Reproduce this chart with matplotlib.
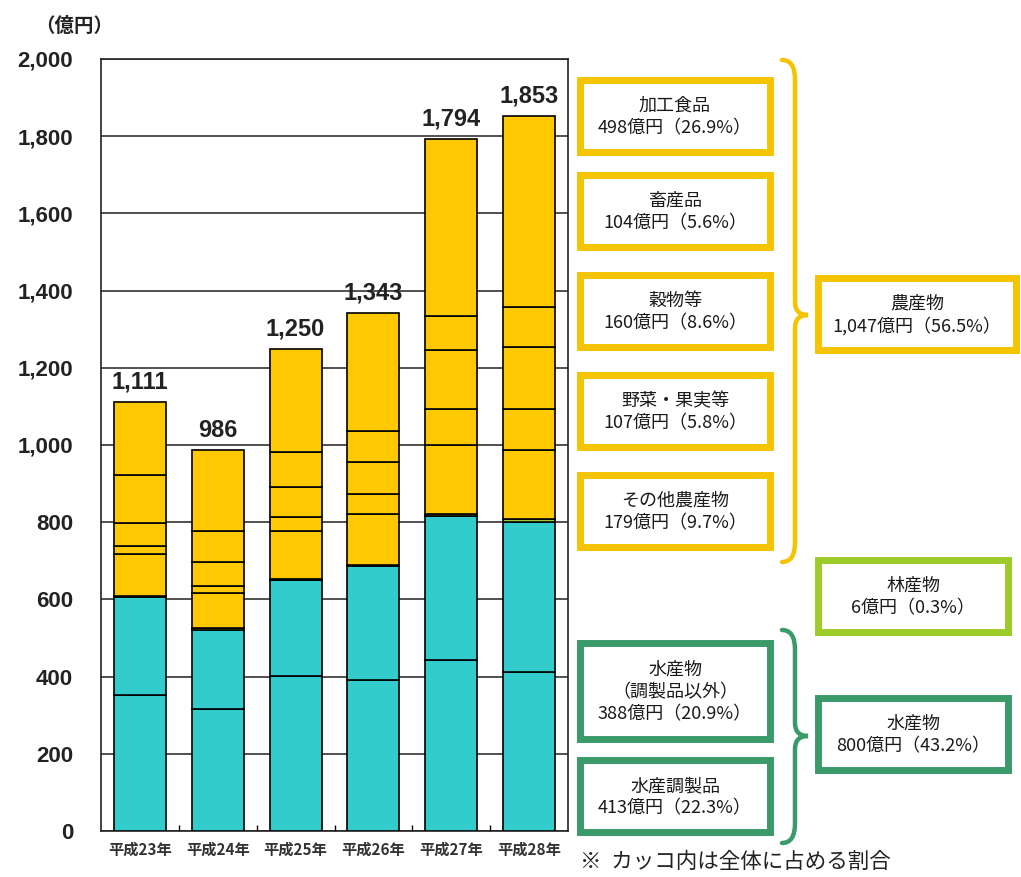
import numpy as np
import matplotlib.pyplot as plt
from matplotlib.patches import Rectangle, PathPatch
from matplotlib.path import Path

plt.rcParams['font.family'] = ['Liberation Sans', 'Noto Sans CJK JP']
JP = ['Noto Sans CJK JP', 'DejaVu Sans']

# 年度
years = ['平成23年', '平成24年', '平成25年', '平成26年', '平成27年', '平成28年']

# 品目別の輸出額（億円）、下から積み上げ順
processed_fish = [352, 316, 402, 392, 442, 413]
fish_other = [255, 206, 248, 294, 375, 388]
forest = [3, 3, 2, 2, 3, 6]
agri_other = [107, 92, 125, 132, 179, 179]
veg_fruit = [21, 19, 36, 54, 94, 107]
grain = [59, 61, 79, 81, 152, 160]
livestock = [125, 80, 91, 81, 88, 104]
processed_food = [189, 209, 267, 307, 461, 496]

TEAL = '#33CCCC'
YELLOW = '#FFC800'
BOX_Y = '#F5C400'
BOX_LG = '#9DCB2A'
BOX_DG = '#3A9A6A'

series = [
    (processed_fish, TEAL),
    (fish_other, TEAL),
    (forest, BOX_LG),
    (agri_other, YELLOW),
    (veg_fruit, YELLOW),
    (grain, YELLOW),
    (livestock, YELLOW),
    (processed_food, YELLOW),
]

# 右側の内訳ボックス（平成28年）
left_names = ['加工食品', '畜産品', '穀物等', '野菜・果実等', 'その他農産物',
              '水産物\n（調製品以外）', '水産調製品']
left_values = [498, 104, 160, 107, 179, 388, 413]
left_shares = [26.9, 5.6, 8.6, 5.8, 9.7, 20.9, 22.3]
right_names = ['農産物', '林産物', '水産物']
right_values = [1047, 6, 800]
right_shares = [56.5, 0.3, 43.2]

fig = plt.figure(figsize=(10.21, 8.77), dpi=100)
W, H = 1021, 877
ax = fig.add_axes([101 / W, 1 - 831 / H, 467 / W, 772 / H])

x = np.arange(len(years))
bottom = np.zeros(len(years))
for vals, col in series:
    ax.bar(x, vals, bottom=bottom, width=0.67, color=col,
           edgecolor='black', linewidth=1.2, zorder=3)
    bottom += np.array(vals)

for xi, tot in zip(x, bottom):
    ax.text(xi, tot + 22, f'{int(tot):,}', ha='center', va='bottom',
            fontsize=17, fontweight='bold', color='#222222')

ax.set_xlim(-0.5, 5.5)
ax.set_ylim(0, 2000)
ax.set_yticks(range(0, 2001, 200))
ax.set_yticklabels([f'{v:,}' for v in range(0, 2001, 200)],
                   fontsize=16, fontweight='bold', color='#222222')
ax.tick_params(axis='y', length=0, pad=20)
ax.set_xticks(x)
ax.set_xticklabels(years, fontsize=11, fontweight='bold', family=JP,
                   color='#333333')
ax.set_xticks(np.arange(0.5, 5.5, 1), minor=True)
ax.tick_params(axis='x', which='major', length=0, pad=8)
ax.tick_params(axis='x', which='minor', direction='in', length=4, width=1)
ax.yaxis.grid(True, color='#222222', linewidth=1.1)
ax.set_axisbelow(True)
for sp in ax.spines.values():
    sp.set_linewidth(1.2)
    sp.set_color('#222222')

# 注記・ボックスはピクセル座標のオーバーレイに描く
ov = fig.add_axes([0, 0, 1, 1], zorder=-1)
ov.set_xlim(0, W)
ov.set_ylim(H, 0)
ov.axis('off')

ov.text(74, 26, '（億円）', ha='center', va='center', fontsize=14,
        fontweight='bold', family=JP, color='#222222')
ov.text(580, 862, '※  カッコ内は全体に占める割合', ha='left', va='center',
        fontsize=15.5, family=JP, color='#222222')


def box(x0, y0, w, h, color, text):
    ov.add_patch(Rectangle((x0, y0), w, h, fill=False, edgecolor=color,
                           linewidth=5))
    ov.text(x0 + w / 2, y0 + h / 2 + 1, text, ha='center', va='center',
            fontsize=13, family=JP, color='#1a1a1a', linespacing=1.3)


def brace(x0, y0, y1, ym, color, w=13):
    verts = [(x0, y0), (x0 + w, y0), (x0 + w, y0 + 1.5 * w),
             (x0 + w, ym - w), (x0 + w, ym), (x0 + 2 * w, ym),
             (x0 + w, ym), (x0 + w, ym + w),
             (x0 + w, y1 - 1.5 * w), (x0 + w, y1), (x0, y1)]
    codes = [Path.MOVETO, Path.CURVE3, Path.CURVE3,
             Path.LINETO, Path.CURVE3, Path.CURVE3,
             Path.CURVE3, Path.CURVE3,
             Path.LINETO, Path.CURVE3, Path.CURVE3]
    ov.add_patch(PathPatch(Path(verts, codes), fill=False, edgecolor=color,
                           linewidth=3.2, capstyle='round'))


left_pos = [(80, 72), (175, 72), (275, 72), (375, 72), (475, 72),
            (643, 96), (760, 72)]
for i, (y0, h) in enumerate(left_pos):
    col = BOX_Y if i < 5 else BOX_DG
    txt = f'{left_names[i]}\n{left_values[i]:,}億円（{left_shares[i]}%）'
    box(580, y0, 190, h, col, txt)

right_pos = [(278, 72, BOX_Y), (560, 72, BOX_LG), (698, 72, BOX_DG)]
for i, (y0, h, col) in enumerate(right_pos):
    txt = f'{right_names[i]}\n{right_values[i]:,}億円（{right_shares[i]}%）'
    box(818, y0, 198 if i == 0 else 190, h, col, txt)

brace(782, 60, 562, 315, BOX_Y)
brace(782, 630, 843, 736, BOX_DG)

fig.savefig('out.png', dpi=100)
